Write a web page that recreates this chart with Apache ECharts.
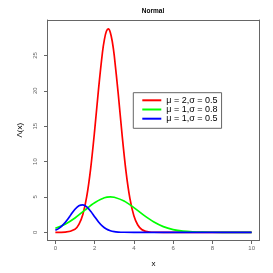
<!DOCTYPE html>
<html>
<head>
<meta charset="utf-8">
<script src="https://cdn.jsdelivr.net/npm/echarts@6/dist/echarts.min.js"></script>
<style>html,body{margin:0;padding:0;background:#fff}#c{width:273px;height:273px}</style>
</head>
<body>
<div id="c"></div>
<script>
var titleText = 'Normal';
var xName = 'x';
var yName = 'Λ(x)';
var xTicks = [0, 2, 4, 6, 8, 10];
var yTicks = [0, 5, 10, 15, 20, 25];
var seriesNames = ['μ = 2,σ = 0.5', 'μ = 1,σ = 0.8', 'μ = 1,σ = 0.5'];

var redX = [0, 0.5, 1.0, 1.2, 1.4, 1.6, 1.8, 2.0, 2.2, 2.4, 2.5, 2.6, 2.7, 2.8, 2.9, 3.0, 3.2, 3.4, 3.6, 3.8, 4.0, 4.2, 4.4, 4.6, 4.8, 5.0, 6, 7, 8, 9, 10];
var redY = [0, 0.03, 0.44, 1.12, 2.53, 5.07, 9.04, 14.34, 20.24, 25.43, 27.27, 28.41, 28.75, 28.25, 26.96, 24.99, 19.66, 13.77, 8.58, 4.75, 2.34, 1.03, 0.40, 0.14, 0.04, 0.01, 0, 0, 0, 0, 0];

var greenX = [0, 0.5, 1.0, 1.5, 2.0, 2.5, 2.8, 3.0, 3.5, 4.0, 4.5, 5.0, 5.5, 6.0, 6.5, 7.0, 7.5, 8.0, 9.0, 10];
var greenY = [0.57, 1.15, 2.03, 3.13, 4.18, 4.88, 5.0, 4.95, 4.42, 3.49, 2.43, 1.49, 0.81, 0.39, 0.16, 0.06, 0.02, 0.01, 0, 0];

var blueX = [0, 0.2, 0.4, 0.6, 0.8, 1.0, 1.2, 1.4, 1.6, 1.8, 2.0, 2.2, 2.4, 2.6, 2.8, 3.0, 3.2, 3.5, 4.0, 5, 6, 7, 8, 9, 10];
var blueY = [0.30, 0.60, 1.08, 1.75, 2.52, 3.26, 3.76, 3.89, 3.60, 2.98, 2.21, 1.46, 0.87, 0.46, 0.22, 0.09, 0.04, 0.01, 0, 0, 0, 0, 0, 0, 0];

function pairs(xs, ys) { return xs.map(function (x, i) { return [x, ys[i]]; }); }

var chart = echarts.init(document.getElementById('c'), null, { renderer: 'canvas' });
var axisColor = '#666';
var labelColor = '#666';
var xMin = -0.4, xMax = 10.4, yMin = -1.154, yMax = 30.0;
function frameAxis(pos, min, max) {
  return {
    type: 'value', position: pos, min: min, max: max,
    axisLine: { show: true, onZero: false, lineStyle: { color: axisColor } },
    axisTick: { show: false }, axisLabel: { show: false }, splitLine: { show: false }
  };
}
chart.setOption({
  animation: false,
  backgroundColor: '#fff',
  title: {
    text: titleText, left: 153, top: 8, textAlign: 'center', padding: 0,
    textStyle: { fontSize: 6.5, fontWeight: 'bold', color: '#000', fontFamily: 'Liberation Sans' }
  },
  grid: {
    left: 47.5, right: 13.5, top: 20, bottom: 26.3
  },
  legend: {
    orient: 'vertical', left: 133.3, top: 92.7,
    data: seriesNames,
    icon: 'rect', itemWidth: 19, itemHeight: 2, itemGap: 0, itemTextGap: 6,
    borderColor: axisColor, borderWidth: 1, padding: [3, 4, 5, 9],
    textStyle: { fontSize: 9, color: '#000', lineHeight: 9.2, fontFamily: 'Liberation Sans' }
  },
  xAxis: [{
    type: 'value', position: 'bottom', min: xMin, max: xMax,
    name: xName, nameLocation: 'middle', nameGap: 19.5,
    nameTextStyle: { fontSize: 8, color: '#000', fontFamily: 'Liberation Sans' },
    axisLine: { show: true, onZero: false, lineStyle: { color: axisColor } },
    axisTick: { show: true, length: 3.5, customValues: xTicks, lineStyle: { color: axisColor } },
    axisLabel: { customValues: xTicks, fontSize: 6, color: labelColor, margin: 5, fontFamily: 'Liberation Sans' },
    splitLine: { show: false }
  }, frameAxis('top', xMin, xMax)],
  yAxis: [{
    type: 'value', position: 'left', min: yMin, max: yMax,
    name: yName, nameLocation: 'middle', nameGap: 23.5,
    nameTextStyle: { fontSize: 8, color: '#000', fontFamily: 'Liberation Sans' },
    axisLine: { show: true, onZero: false, lineStyle: { color: axisColor } },
    axisTick: { show: true, length: 3.5, customValues: yTicks, lineStyle: { color: axisColor } },
    axisLabel: { customValues: yTicks, fontSize: 6, color: labelColor, margin: 9, rotate: 90, fontFamily: 'Liberation Sans' },
    splitLine: { show: false }
  }, frameAxis('right', yMin, yMax)],
  series: [
    { name: seriesNames[0], type: 'line', data: pairs(redX, redY), showSymbol: false, smooth: 0.3, lineStyle: { width: 1.7, color: '#ff0000' }, itemStyle: { color: '#ff0000' } },
    { name: seriesNames[1], type: 'line', data: pairs(greenX, greenY), showSymbol: false, smooth: 0.3, lineStyle: { width: 1.7, color: '#00ff00' }, itemStyle: { color: '#00ff00' } },
    { name: seriesNames[2], type: 'line', data: pairs(blueX, blueY), showSymbol: false, smooth: 0.3, lineStyle: { width: 1.7, color: '#0000ff' }, itemStyle: { color: '#0000ff' } }
  ]
});
</script>
</body>
</html>
